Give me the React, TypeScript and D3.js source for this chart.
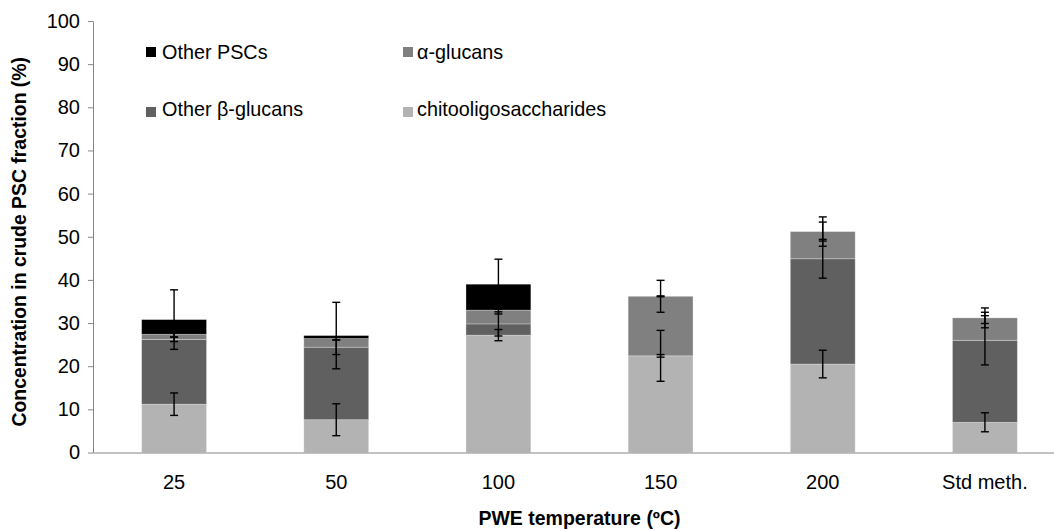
import { useEffect, useRef } from "react";
import * as d3 from "d3";

const width = 1054;
const height = 530;
const marginLeft = 93;
const marginTop = 21;
const chartBottomY = 452.5;
const plotRight = 1066; // the plot area runs past the right edge of the picture
const fontFamily = "'Liberation Sans', Arial, sans-serif";

// data
const categories = ["25", "50", "100", "150", "200", "Std meth."];
const chito = [11.2, 7.6, 27.2, 22.4, 20.5, 7.0];
const chitoErr = [2.6, 3.7, 1.3, 5.9, 3.2, 2.2];
const betaGlucans = [15.0, 16.8, 2.6, 0, 24.4, 19.0];
const betaErr = [0.5, 1.7, 2.8, 0.3, 4.5, 5.7];
const alphaGlucans = [1.2, 2.0, 3.2, 13.8, 6.3, 5.2];
const alphaErr = [0.6, 0.3, 0.9, 3.7, 3.4, 2.3];
const otherPSC = [3.4, 0.7, 6.0, 0, 0, 0];
const otherErr = [6.9, 7.7, 5.8, 0.1, 2.2, 1.3];
const yTicks = [0, 10, 20, 30, 40, 50, 60, 70, 80, 90, 100];

const seriesInfo = [
  { key: "chito", label: "chitooligosaccharides", color: "#b3b3b3", errors: chitoErr },
  { key: "beta", label: "Other β-glucans", color: "#606060", errors: betaErr },
  { key: "alpha", label: "α-glucans", color: "#808080", errors: alphaErr },
  { key: "other", label: "Other PSCs", color: "#000000", errors: otherErr },
];

// legend order as in the picture: row by row
const legendItems = [
  { key: "other", col: 0, row: 0 },
  { key: "alpha", col: 1, row: 0 },
  { key: "beta", col: 0, row: 1 },
  { key: "chito", col: 1, row: 1 },
];

const App = () => {
  const xAxisRef = useRef<SVGGElement>(null);
  const yAxisRef = useRef<SVGGElement>(null);

  const table = categories.map((c, i) => ({
    category: c,
    chito: chito[i],
    beta: betaGlucans[i],
    alpha: alphaGlucans[i],
    other: otherPSC[i],
  }));

  const stacked = d3.stack<any>().keys(seriesInfo.map((s) => s.key))(table);

  const xScale = d3
    .scaleBand()
    .domain(categories)
    .range([marginLeft, plotRight])
    .paddingInner(0.6)
    .paddingOuter(0.3);

  const yScale = d3.scaleLinear().domain([0, 100]).range([chartBottomY, marginTop]);

  useEffect(() => {
    document.body.style.margin = "0";

    const yAxis = d3
      .axisLeft(yScale)
      .tickValues(yTicks)
      .tickSize(5)
      .tickSizeOuter(0)
      .tickPadding(8);
    const yg = d3.select(yAxisRef.current).call(yAxis);
    yg.select(".domain").attr("stroke", "#868686");
    yg.selectAll(".tick line").attr("stroke", "#868686");
    yg.selectAll("text")
      .attr("font-size", "20px")
      .attr("font-family", fontFamily)
      .attr("fill", "#000");

    const xAxis = d3.axisBottom(xScale).tickSize(0).tickSizeOuter(0).tickPadding(22);
    const xg = d3.select(xAxisRef.current).call(xAxis);
    xg.select(".domain").attr("stroke", "#868686");
    xg.selectAll("text")
      .attr("font-size", "20px")
      .attr("font-family", fontFamily)
      .attr("fill", "#000");
  }, []);

  const bw = xScale.bandwidth();
  const capHalf = 4;

  return (
    <svg width={width} height={height} style={{ display: "block", background: "#fff" }}>
      {/* stacked bars */}
      {stacked.map((layer, si) => (
        <g key={layer.key}>
          {layer.map((d, i) =>
            d[1] - d[0] > 0 ? (
              <rect
                key={i}
                x={xScale(categories[i])}
                y={yScale(d[1])}
                width={bw}
                height={yScale(d[0]) - yScale(d[1])}
                fill={seriesInfo[si].color}
                stroke="#ffffff"
                strokeOpacity={0.35}
                strokeWidth={0.8}
              />
            ) : null
          )}
        </g>
      ))}

      {/* error bars at the top of each segment */}
      {stacked.map((layer, si) => (
        <g key={"err" + layer.key} stroke="#000" strokeWidth={1.4}>
          {layer.map((d, i) => {
            const cx = (xScale(categories[i]) ?? 0) + bw / 2;
            const e = seriesInfo[si].errors[i];
            const y1 = yScale(d[1] + e);
            const y2 = yScale(d[1] - e);
            return (
              <g key={i}>
                <line x1={cx} x2={cx} y1={y1} y2={y2} />
                <line x1={cx - capHalf} x2={cx + capHalf} y1={y1} y2={y1} />
                <line x1={cx - capHalf} x2={cx + capHalf} y1={y2} y2={y2} />
              </g>
            );
          })}
        </g>
      ))}

      <g ref={xAxisRef} transform={`translate(0,${chartBottomY})`} />
      <g ref={yAxisRef} transform={`translate(${marginLeft},0)`} />

      {/* legend */}
      {legendItems.map((item) => {
        const s = seriesInfo.find((d) => d.key === item.key)!;
        const sx = item.col === 0 ? 146 : 403;
        const tx = item.col === 0 ? 162 : 417;
        const sy = item.row === 0 ? 47 : 107;
        const ty = item.row === 0 ? 58.5 : 116;
        return (
          <g key={item.key}>
            <rect x={sx} y={sy} width={10} height={10} fill={s.color} />
            <text x={tx} y={ty} fontSize={19.8} fontFamily={fontFamily} fill="#000">
              {s.label}
            </text>
          </g>
        );
      })}

      {/* axis titles */}
      <text
        x={(marginLeft + plotRight) / 2}
        y={525}
        textAnchor="middle"
        fontSize={19.5}
        fontWeight="bold"
        fontFamily={fontFamily}
      >
        PWE temperature (ºC)
      </text>
      <text
        transform={`translate(26,${(marginTop + chartBottomY) / 2 + 5}) rotate(-90)`}
        textAnchor="middle"
        fontSize={19.4}
        fontWeight="bold"
        fontFamily={fontFamily}
      >
        Concentration in crude PSC fraction (%)
      </text>
    </svg>
  );
};

export default App;
